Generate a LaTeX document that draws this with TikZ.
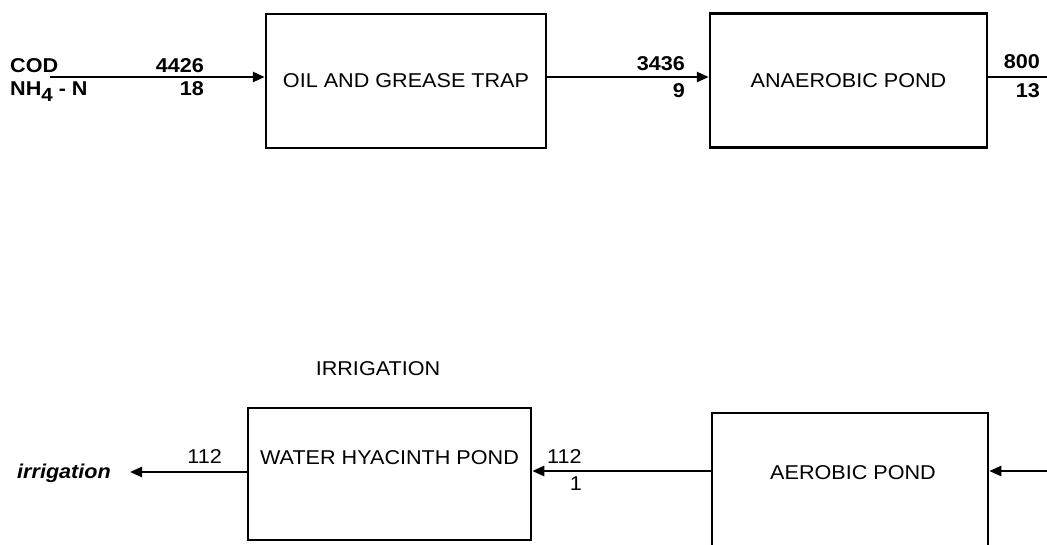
\documentclass[tikz,border=0pt]{standalone}
\usepackage{fontspec}
\setmainfont{Liberation Sans}[FakeStretch=1.08]
\usetikzlibrary{arrows.meta}
\tikzset{
  box/.style={draw, line width=2.5pt, inner sep=0pt, font=\fontsize{20}{22}\selectfont},
  lbl/.style={inner sep=0pt, font=\fontsize{20}{22}\selectfont},
  blbl/.style={inner sep=0pt, font=\fontsize{20}{22}\selectfont\bfseries},
  flow/.style={line width=2.5pt},
  arr/.style={line width=2.5pt, -{Triangle[length=12pt,width=10pt]}}
}
\begin{document}
\begin{tikzpicture}[x=1pt,y=-1pt]
\clip (0,0) rectangle (1047,544);
\useasboundingbox (0,0) rectangle (1047,544);
% boxes
\node[box, minimum width=280pt, minimum height=134pt] (trap) at (406,81) {OIL AND GREASE TRAP};
\node[box, minimum width=277pt, minimum height=134pt] (ana) at (848.5,80.5) {ANAEROBIC POND};
\node[box, minimum width=283pt, minimum height=132pt] (hya) at (389.5,474) {};
\node[box, minimum width=276pt, minimum height=147pt] (aer) at (850,486.5) {};
\node[lbl] (hyat) at (389.5,458) {WATER HYACINTH POND};
\node[lbl] (aert) at (853,473) {AEROBIC POND};
\node[lbl, anchor=base] (irrt) at (378,375) {IRRIGATION};
% top row labels
\node[blbl, anchor=base west] (cod) at (10,72) {COD};
\node[blbl, anchor=base west] (nh) at (10,95) {NH\raisebox{-6pt}{\fontsize{19}{19}\selectfont 4} - N};
\node[blbl, anchor=base east] (a1) at (204,72) {4426};
\node[blbl, anchor=base east] (b1) at (204,95) {18};
\node[blbl, anchor=base east] (a2) at (685,70) {3436};
\node[blbl, anchor=base east] (b2) at (685,97) {9};
\node[blbl, anchor=base east] (a3) at (1040,68) {800};
\node[blbl, anchor=base east] (b3) at (1040,97) {13};
% bottom row labels
\node[lbl, anchor=base east] (c1) at (222,463) {112};
\node[lbl, anchor=base west] (c2) at (547,463) {112};
\node[lbl, anchor=base east] (d2) at (582,490) {1};
\node[inner sep=0pt, anchor=base west, font=\fontsize{20}{22}\selectfont\bfseries\itshape] (irr) at (17,478) {irrigation};
% connectors
\coordinate (s1) at (50,77);
\coordinate (e1) at (1047,77);
\coordinate (e2) at (1047,471);
\coordinate (o1) at (130,472);
\draw[arr] (s1) -- (s1 -| trap.west);
\draw[arr] (trap.east |- s1) -- (s1 -| ana.west);
\draw[flow] (ana.east |- e1) -- (e1);
\draw[arr] (e2) -- (e2 -| aer.east);
\draw[arr] (aer.west |- e2) -- (e2 -| hya.east);
\draw[arr] (hya.west |- o1) -- (o1);
\end{tikzpicture}
\end{document}
